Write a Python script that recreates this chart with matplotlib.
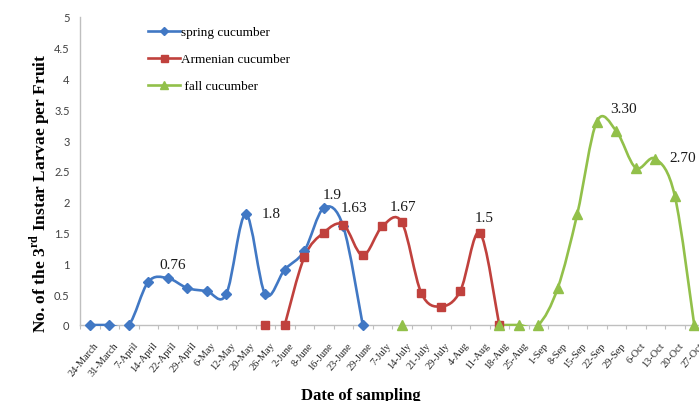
"""Larval counts per fruit on three cucumber plantings, smoothed Excel-style lines."""

import matplotlib
matplotlib.use('Agg')
import matplotlib.pyplot as plt
from matplotlib.path import Path
from matplotlib.patches import PathPatch, Rectangle
from matplotlib.lines import Line2D
from matplotlib.transforms import ScaledTranslation
import numpy as np

# --- data ---
dates = ['24-March', '31-March', '7-April', '14-April', '22-April', '29-April',
         '6-May', '12-May', '20-May', '26-May', '2-June', '8-June', '16-June',
         '23-June', '29-June', '7-July', '14-July', '21-July', '29-July', '4-Aug',
         '11-Aug', '18-Aug', '25-Aug', '1-Sep', '8-Sep', '15-Sep', '22-Sep',
         '29-Sep', '6-Oct', '13-Oct', '20-Oct', '27-Oct']

spring_from = '24-March'
spring = [0, 0, 0, 0.7, 0.76, 0.6, 0.55, 0.5, 1.8, 0.5, 0.9, 1.2, 1.9, 1.6, 0]

armenian_from = '2-June'
armenian = [0, 1.1, 1.5, 1.63, 1.13, 1.6, 1.67, 0.52, 0.3, 0.55, 1.5, 0]
armenian_single = ('26-May', 0)

fall_from = '18-Aug'
fall = [0, 0, 0, 0.6, 1.8, 3.3, 3.15, 2.55, 2.7, 2.1, 0]
fall_single = ('14-July', 0)

y_ticks = [0, 0.5, 1, 1.5, 2, 2.5, 3, 3.5, 4, 4.5, 5]
y_tick_labels = ['0', '0.5', '1', '1.5', '2', '2.5', '3', '3.5', '4', '4.5', '5']

# data labels: (date, value, text)
point_labels = [
    ('22-April', 0.76, '0.76'),
    ('20-May', 1.8, '1.8'),
    ('16-June', 1.9, '1.9'),
    ('23-June', 1.63, '1.63'),
    ('14-July', 1.67, '1.67'),
    ('11-Aug', 1.5, '1.5'),
    ('22-Sep', 3.3, '3.30'),
    ('13-Oct', 2.7, '2.70'),
    ('27-Oct', 0, '0'),
]
# offsets of those labels, in points
label_offsets = [(3.6, 10), (18, 0.5), (5.8, 10), (8, 12), (0.7, 11),
                 (3, 11), (19, 9.4), (19.5, 0.5), (6.5, 0)]

serif = 'Liberation Serif'
BLUE = '#4178c4'
RED = '#c0413d'
GREEN = '#92c04a'
AXIS_GREY = '#bfbfbf'

plt.rcParams['mathtext.fontset'] = 'custom'
plt.rcParams['mathtext.rm'] = 'Liberation Serif:bold'


def smooth_path(xs, ys):
    """Catmull-Rom style cubic Bezier through the points (like Excel smoothed lines)."""
    pts = np.column_stack([xs, ys]).astype(float)
    n = len(pts)
    verts = [pts[0]]
    codes = [Path.MOVETO]
    for i in range(n - 1):
        p0 = pts[i - 1] if i > 0 else pts[i]
        p1 = pts[i]
        p2 = pts[i + 1]
        p3 = pts[i + 2] if i + 2 < n else pts[i + 1]
        verts += [p1 + (p2 - p0) / 6, p2 - (p3 - p1) / 6, p2]
        codes += [Path.CURVE4] * 3
    return Path(verts, codes)


fig = plt.figure(figsize=(6.99, 4.02), dpi=100)
ax = fig.add_axes([80 / 699, 76 / 402, 624 / 699, 308 / 402])
ax.set_xlim(-0.5, len(dates) - 0.5)
ax.set_ylim(0, 5)

series = [
    (spring, spring_from, None, BLUE, 'D', 5.2, 'spring cucumber'),
    (armenian, armenian_from, armenian_single, RED, 's', 6.3, 'Armenian cucumber'),
    (fall, fall_from, fall_single, GREEN, '^', 7.5, ' fall cucumber'),
]

handles = []
for values, start, single, color, marker, ms, name in series:
    i0 = dates.index(start)
    xs = np.arange(i0, i0 + len(values))
    patch = PathPatch(smooth_path(xs, values), facecolor='none', edgecolor=color,
                      linewidth=1.9, capstyle='round', joinstyle='round', zorder=3)
    ax.add_patch(patch)
    # clip only the small overshoot below the zero line
    clip = Rectangle((-1, -0.022), len(dates) + 2, 6, transform=ax.transData)
    patch.set_clip_path(clip)
    ax.plot(xs, values, linestyle='none', marker=marker, ms=ms, color=color,
            zorder=4, clip_on=False)
    if single is not None:
        ax.plot([dates.index(single[0])], [single[1]], linestyle='none', marker=marker,
                ms=ms, color=color, zorder=4, clip_on=False)
    handles.append(Line2D([], [], color=color, linewidth=1.9, marker=marker,
                          ms=ms * 0.8, label=name))

for (d, v, txt), (dx, dy) in zip(point_labels, label_offsets):
    ax.annotate(txt, xy=(dates.index(d), v), xytext=(dx, dy), textcoords='offset points',
                ha='center', va='center', fontsize=11, family=serif, color='#1a1a1a',
                annotation_clip=False)

# axes styling
for side in ['top', 'right']:
    ax.spines[side].set_visible(False)
for side in ['left', 'bottom']:
    ax.spines[side].set_color(AXIS_GREY)
    ax.spines[side].set_linewidth(1.0)

ax.set_yticks(y_ticks)
ax.set_yticklabels(y_tick_labels, fontsize=8, family='Lato', color='#404040')
ax.tick_params(axis='y', length=0, pad=7.5)

ax.set_xticks(range(len(dates)))
ax.set_xticklabels(dates, rotation=50, ha='right', va='top', rotation_mode='anchor',
                   fontsize=7.5, family=serif, color='#262626')
ax.tick_params(axis='x', which='major', length=0, pad=11)
ax.set_xticks(np.arange(-0.5, len(dates), 1), minor=True)
ax.tick_params(axis='x', which='minor', length=3, width=0.8, color=AXIS_GREY)
for lab in ax.get_xticklabels():
    lab.set_transform(lab.get_transform() + ScaledTranslation(3 / 72, 0, fig.dpi_scale_trans))

fig.text(40 / 699, 1 - 193 / 402, r'No. of the 3$^{\mathrm{rd}}$ Instar Larvae per Fruit',
         rotation=90, ha='center', va='center', fontsize=12.5, fontweight='bold', family=serif)
fig.text(361 / 699, 2 / 402, 'Date of sampling', ha='center', va='baseline',
         fontsize=12, fontweight='bold', family=serif)

ax.legend(handles=handles, loc='upper left', bbox_to_anchor=(148 / 699, 1 - 27 / 402),
          bbox_transform=fig.transFigure, frameon=False, borderpad=0, borderaxespad=0,
          handlelength=2.4, handletextpad=0.1, labelspacing=1.12, numpoints=1,
          prop={'family': serif, 'size': 9.5})

plt.savefig('out.png', dpi=100)
